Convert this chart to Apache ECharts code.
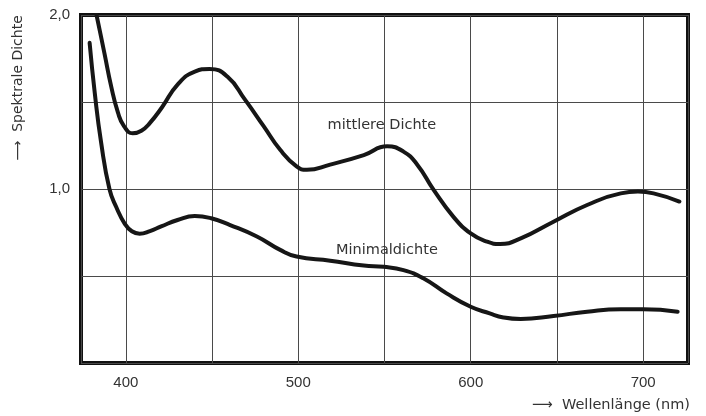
<!DOCTYPE html>
<html>
<head>
<meta charset="utf-8">
<script src="https://cdn.jsdelivr.net/npm/echarts@6/dist/echarts.min.js"></script>
<style>
  html, body { margin: 0; padding: 0; background: #fff; }
  #chart { width: 706px; height: 416px; }
</style>
</head>
<body>
<div id="chart"></div>
<script>
// Spectral density versus wavelength: two measured curves.
const wavelengthRange = [374, 726];           // nm
const densityRange = [0, 2];
const densityLabels = { 1: '1,0', 2: '2,0' };

// [wavelength nm, spectral density]
const mittlereDichte = [
  [381.5, 2.07], [383, 2.0], [387.6, 1.78], [391.5, 1.59], [395.4, 1.44],
  [399, 1.36], [404, 1.32], [409, 1.335], [414, 1.38], [421, 1.47],
  [430, 1.6], [440, 1.675], [448.5, 1.69], [459, 1.645], [469, 1.515],
  [480, 1.36], [489.5, 1.225], [499, 1.13], [505, 1.11], [518.5, 1.14],
  [538, 1.195], [551.5, 1.245], [561, 1.215], [569, 1.14], [578.5, 0.995],
  [590, 0.84], [600, 0.745], [609.5, 0.697], [617, 0.684], [629, 0.716],
  [648, 0.812], [667.5, 0.908], [687, 0.975], [697, 0.985], [706, 0.975],
  [721, 0.928]
];

const minimaldichte = [
  [379, 1.84], [382, 1.55], [385.7, 1.265], [390.5, 1.0], [394.5, 0.895],
  [399.4, 0.8], [403.5, 0.757], [408, 0.743], [414, 0.758], [420.5, 0.785],
  [430, 0.822], [440, 0.845], [449.5, 0.832], [460.5, 0.793], [476, 0.727],
  [489.5, 0.65], [499, 0.612], [518.5, 0.588], [538, 0.56], [549.5, 0.553],
  [561, 0.534], [572.5, 0.487], [586, 0.4], [600, 0.323], [611, 0.285],
  [619, 0.262], [629, 0.253], [648, 0.27], [667.5, 0.295], [687, 0.309],
  [700, 0.309], [720, 0.295]
];

// Curve captions, anchored in data units
const captionMittlere = { text: 'mittlere Dichte', at: [548.5, 1.368] };
const captionMinimal = { text: 'Minimaldichte', at: [551.4, 0.649] };

const INK = '#161616';
const TEXT = '#333';
const WORD_FONT = 'DejaVu Sans';
const NUM_FONT = 'Liberation Sans';

function caption(c) {
  return {
    silent: true,
    symbol: 'circle',
    symbolSize: 1,
    itemStyle: { color: 'transparent' },
    label: {
      show: true,
      position: 'inside',
      formatter: c.text,
      color: TEXT,
      fontFamily: WORD_FONT,
      fontSize: 14.5
    },
    data: [{ coord: c.at }]
  };
}

function curve(name, data, c) {
  return {
    name: name,
    type: 'line',
    data: data,
    smooth: 0.5,
    showSymbol: false,
    symbol: 'none',
    lineStyle: { color: INK, width: 4, cap: 'round', join: 'round' },
    markPoint: caption(c),
    animation: false
  };
}

const chart = echarts.init(document.getElementById('chart'), null, { renderer: 'canvas' });
chart.setOption({
  backgroundColor: '#fff',
  animation: false,
  grid: {
    left: 81, right: 18, top: 15, bottom: 53,
    show: true,
    borderColor: '#111',
    borderWidth: 4,
    backgroundColor: 'transparent'
  },
  xAxis: {
    type: 'value',
    min: wavelengthRange[0],
    max: wavelengthRange[1],
    splitNumber: 7,
    minInterval: 50,
    maxInterval: 50,
    axisLine: { show: false },
    axisTick: { show: false },
    axisLabel: {
      showMinLabel: false,
      showMaxLabel: false,
      margin: 12,
      color: TEXT,
      fontFamily: NUM_FONT,
      fontSize: 15,
      formatter: v => (v % 100 === 0 ? String(v) : '')
    },
    splitLine: { show: true, lineStyle: { color: '#4a4a4a', width: 1 } }
  },
  yAxis: {
    type: 'value',
    min: densityRange[0],
    max: densityRange[1],
    interval: 0.5,
    axisLine: { show: false },
    axisTick: { show: false },
    axisLabel: {
      margin: 11,
      color: TEXT,
      fontFamily: NUM_FONT,
      fontSize: 15,
      formatter: v => densityLabels[v] || ''
    },
    splitLine: { show: true, lineStyle: { color: '#4a4a4a', width: 1 } }
  },
  graphic: [
    {
      type: 'text',
      x: 18, y: 88,
      rotation: Math.PI / 2,
      style: {
        text: '\u27F6  Spektrale Dichte',
        fill: TEXT,
        font: '14px "DejaVu Sans"',
        textAlign: 'center',
        textVerticalAlign: 'middle'
      }
    },
    {
      type: 'text',
      right: 16, top: 398,
      style: {
        text: '\u27F6  Wellenlänge (nm)',
        fill: TEXT,
        font: '14.5px "DejaVu Sans"'
      }
    }
  ],
  series: [
    curve('mittlere Dichte', mittlereDichte, captionMittlere),
    curve('Minimaldichte', minimaldichte, captionMinimal)
  ]
});
</script>
</body>
</html>
